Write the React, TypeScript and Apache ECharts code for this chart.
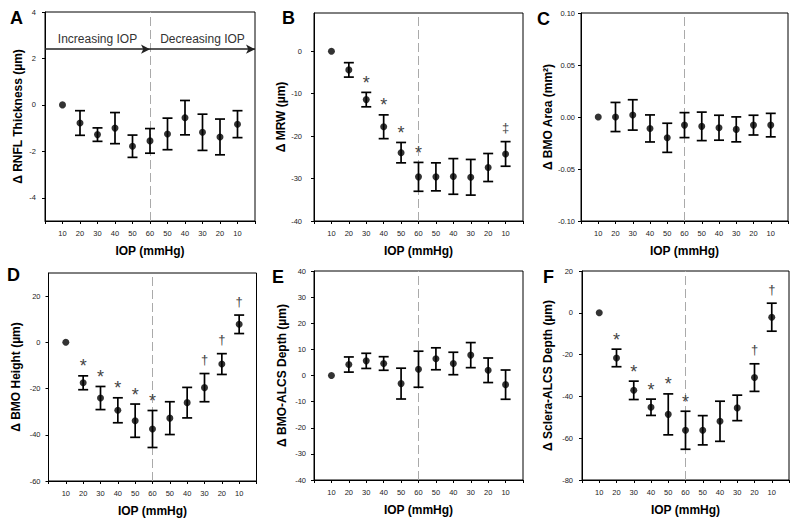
import React, { useEffect, useRef } from "react";
import * as echarts from "echarts";

const FONT = "'Liberation Sans', Arial, Helvetica, sans-serif";

const iopLabels = ["10", "20", "30", "40", "50", "60", "50", "40", "30", "20", "10"];
const panelLetters = ["A", "B", "C", "D", "E", "F"];
const xAxisTitle = "IOP (mmHg)";
const arrowTexts = ["Increasing IOP", "Decreasing IOP"];

const rnflMean = [0, -0.78, -1.28, -1.0, -1.78, -1.55, -1.25, -0.55, -1.18, -1.38, -0.83];
const rnflErr = [0, 0.53, 0.29, 0.67, 0.48, 0.53, 0.68, 0.74, 0.78, 0.77, 0.58];
const rnflSig = ["", "", "", "", "", "", "", "", "", "", ""];
const rnflTicks = [-4, -2, 0, 2, 4];

const mrwMean = [0, -4.4, -11.4, -17.8, -23.9, -29.6, -29.6, -29.5, -29.7, -27.4, -24.2];
const mrwErr = [0, 1.7, 1.7, 2.8, 2.4, 3.4, 3.3, 4.2, 4.2, 3.3, 2.9];
const mrwSig = ["", "", "*", "*", "*", "*", "", "", "", "", "‡"];
const mrwTicks = [-40, -30, -20, -10, 0];

const areaMean = [0, 0.0, 0.002, -0.011, -0.02, -0.0078, -0.009, -0.0103, -0.0119, -0.0078, -0.0078];
const areaErr = [0, 0.014, 0.0146, 0.013, 0.014, 0.012, 0.0137, 0.012, 0.012, 0.0095, 0.0113];
const areaSig = ["", "", "", "", "", "", "", "", "", "", ""];
const areaTicks = [-0.1, -0.05, 0, 0.05, 0.1];

const heightMean = [0, -17.5, -24.1, -29.4, -33.9, -37.5, -32.8, -26.1, -19.6, -9.4, 7.8];
const heightErr = [0, 3.0, 5.0, 5.4, 7.2, 8.0, 7.1, 6.6, 6.1, 4.5, 4.0];
const heightSig = ["", "*", "*", "*", "*", "*", "", "", "†", "†", "†"];
const heightTicks = [-60, -40, -20, 0, 20];

const alcsMean = [0, 4.2, 5.6, 4.6, -3.1, 2.4, 6.4, 4.6, 7.8, 2.0, -3.5];
const alcsErr = [0, 2.9, 2.9, 2.6, 5.9, 6.9, 4.2, 4.3, 4.8, 4.7, 5.6];
const alcsSig = ["", "", "", "", "", "", "", "", "", "", ""];
const alcsTicks = [-40, -30, -20, -10, 0, 10, 20, 30, 40];

const scleraMean = [0, -21.6, -37.1, -45.2, -48.6, -56.2, -56.2, -51.9, -45.5, -31.0, -2.1];
const scleraErr = [0, 4.2, 4.4, 3.9, 9.8, 9.1, 7.0, 9.6, 6.1, 6.6, 6.7];
const scleraSig = ["", "*", "*", "*", "*", "*", "", "", "", "†", "†"];
const scleraTicks = [-80, -60, -40, -20, 0, 20];

const yTitles = [
  "Δ RNFL Thickness (µm)",
  "Δ MRW (µm)",
  "Δ BMO Area (mm²)",
  "Δ BMO Height (µm)",
  "Δ BMO-ALCS Depth (µm)",
  "Δ Sclera-ALCS Depth (µm)",
];

export default function App() {
  const ref = useRef<HTMLDivElement>(null);
  useEffect(() => {
    if (!ref.current) return;
    const chart = echarts.init(ref.current, null, { renderer: "svg" });

    const panels = [
      { mean: rnflMean, err: rnflErr, sig: rnflSig, ticks: rnflTicks, min: -5, max: 4, dec: 0,
        grid: { left: 45, top: 12, width: 210, height: 209 }, nameGap: 21, margin: 9, letter: [10, 9] },
      { mean: mrwMean, err: mrwErr, sig: mrwSig, ticks: mrwTicks, min: -40, max: 9, dec: 0,
        grid: { left: 314, top: 13, width: 209, height: 208 }, nameGap: 26, margin: 12, letter: [282, 9] },
      { mean: areaMean, err: areaErr, sig: areaSig, ticks: areaTicks, min: -0.1, max: 0.1, dec: 2,
        grid: { left: 581, top: 13, width: 207, height: 208 }, nameGap: 27, margin: 6, letter: [537, 10] },
      { mean: heightMean, err: heightErr, sig: heightSig, ticks: heightTicks, min: -60, max: 30, dec: 0,
        grid: { left: 48.5, top: 273, width: 208, height: 208 }, nameGap: 27, margin: 8, letter: [7, 266] },
      { mean: alcsMean, err: alcsErr, sig: alcsSig, ticks: alcsTicks, min: -40, max: 40, dec: 0,
        grid: { left: 314, top: 271, width: 209, height: 209 }, nameGap: 26, margin: 8, letter: [272, 268] },
      { mean: scleraMean, err: scleraErr, sig: scleraSig, ticks: scleraTicks, min: -80, max: 20, dec: 0,
        grid: { left: 582, top: 271, width: 207, height: 209 }, nameGap: 28.5, margin: 9, letter: [543, 268] },
    ];

    const grids: any[] = [];
    const xAxes: any[] = [];
    const yAxes: any[] = [];
    const series: any[] = [];
    const graphics: any[] = [];

    panels.forEach((p, i) => {
      grids.push({ ...p.grid, show: true, borderColor: "#000", borderWidth: 1, containLabel: false });
      xAxes.push({
        gridIndex: i,
        type: "value",
        min: 0,
        max: 12,
        interval: 1,
        name: xAxisTitle,
        nameLocation: "middle",
        nameGap: 24,
        nameTextStyle: { fontFamily: FONT, fontWeight: "bold", fontSize: 12, color: "#000" },
        axisLine: { show: true, onZero: false, lineStyle: { color: "#000", width: 1 } },
        axisTick: { show: true, inside: false, length: 3, lineStyle: { color: "#000" } },
        axisLabel: {
          fontFamily: FONT,
          fontSize: 7.5,
          color: "#222",
          margin: 8,
          formatter: (v: number) => (v >= 1 && v <= 11 ? iopLabels[Math.round(v) - 1] : ""),
        },
        splitLine: { show: false },
      });
      yAxes.push({
        gridIndex: i,
        type: "value",
        min: p.min,
        max: p.max,
        name: yTitles[i],
        nameLocation: "middle",
        nameGap: p.nameGap,
        nameTextStyle: { fontFamily: FONT, fontWeight: "bold", fontSize: 12, color: "#000" },
        axisLine: { show: true, onZero: false, lineStyle: { color: "#000", width: 1 } },
        axisTick: { show: true, inside: false, length: 3, lineStyle: { color: "#000" }, customValues: p.ticks },
        axisLabel: {
          fontFamily: FONT,
          fontSize: 7.5,
          color: "#222",
          margin: p.margin,
          customValues: p.ticks,
          formatter: (v: number) => Number(v).toFixed(p.dec),
        },
        splitLine: { show: false },
      });

      const pts = p.mean.map((m, k) => [k + 1, m]);
      const errData = p.mean.map((m, k) => [k + 1, m, p.err[k]]);
      const sig = p.sig;

      series.push({
        type: "scatter",
        xAxisIndex: i,
        yAxisIndex: i,
        data: pts,
        symbol: "circle",
        symbolSize: 7,
        itemStyle: { color: "#000" },
        z: 5,
        silent: true,
        markLine: {
          silent: true,
          symbol: ["none", "none"],
          label: { show: false },
          lineStyle: { color: "#aaa", width: 1, type: [9, 4] },
          data: [{ xAxis: 6 }],
          z: 1,
        },
      });
      series.push({
        type: "custom",
        xAxisIndex: i,
        yAxisIndex: i,
        data: errData,
        encode: { x: 0, y: 1 },
        silent: true,
        z: 4,
        itemStyle: { color: "#333" },
        renderItem: (params: any, api: any) => {
          const k = params.dataIndex;
          const x = api.value(0);
          const m = api.value(1);
          const e = api.value(2);
          const children: any[] = [];
          const top = api.coord([x, m + e]);
          const bot = api.coord([x, m - e]);
          if (e > 0) {
            const st = { stroke: "#000", lineWidth: 1.7, fill: null };
            children.push({ type: "line", shape: { x1: top[0], y1: top[1], x2: bot[0], y2: bot[1] }, style: st });
            children.push({ type: "line", shape: { x1: top[0] - 5, y1: top[1], x2: top[0] + 5, y2: top[1] }, style: st });
            children.push({ type: "line", shape: { x1: bot[0] - 5, y1: bot[1], x2: bot[0] + 5, y2: bot[1] }, style: st });
          }
          const s = sig[k];
          if (s) {
            const isStar = s === "*";
            children.push({
              type: "text",
              x: top[0],
              y: top[1] - (isStar ? 9.5 : 14),
              style: {
                text: s,
                align: "center",
                verticalAlign: "middle",
                font: (isStar ? "18px " : "13px ") + FONT,
                fill: "#444",
              },
            });
          }
          return { type: "group", children };
        },
      });

      graphics.push({
        type: "text",
        left: p.letter[0],
        top: p.letter[1],
        style: { text: panelLetters[i], fontFamily: FONT, fontWeight: "bold", fontSize: 18, fill: "#000" },
      });
    });

    // Panel A arrows and text
    const arrowY = 2.4;
    const arrowTextY = 2.83;
    series.push({
      type: "custom",
      xAxisIndex: 0,
      yAxisIndex: 0,
      data: [
        [3, arrowTextY],
        [9, arrowTextY],
      ],
      encode: { x: 0, y: 1 },
      silent: true,
      z: 6,
      itemStyle: { color: "#333" },
      renderItem: (params: any, api: any) => {
        const c = api.coord([api.value(0), api.value(1)]);
        return {
          type: "text",
          x: c[0],
          y: c[1],
          style: {
            text: arrowTexts[params.dataIndex],
            align: "center",
            verticalAlign: "middle",
            font: "12px " + FONT,
            fill: "#333",
          },
        };
      },
      markLine: {
        silent: true,
        symbol: ["none", "arrow"],
        symbolSize: [7, 9],
        label: { show: false },
        lineStyle: { color: "#222", width: 1.5, type: "solid" },
        data: [
          [{ coord: [0, arrowY] }, { coord: [6, arrowY] }],
          [{ coord: [6, arrowY] }, { coord: [12, arrowY] }],
        ],
      },
    });

    chart.setOption({
      animation: false,
      backgroundColor: "#fff",
      grid: grids,
      xAxis: xAxes,
      yAxis: yAxes,
      series,
      graphic: graphics,
    });

    return () => chart.dispose();
  }, []);

  return (
    <div
      ref={ref}
      style={{ position: "fixed", left: 0, top: 0, width: 800, height: 528, background: "#fff" }}
    />
  );
}
